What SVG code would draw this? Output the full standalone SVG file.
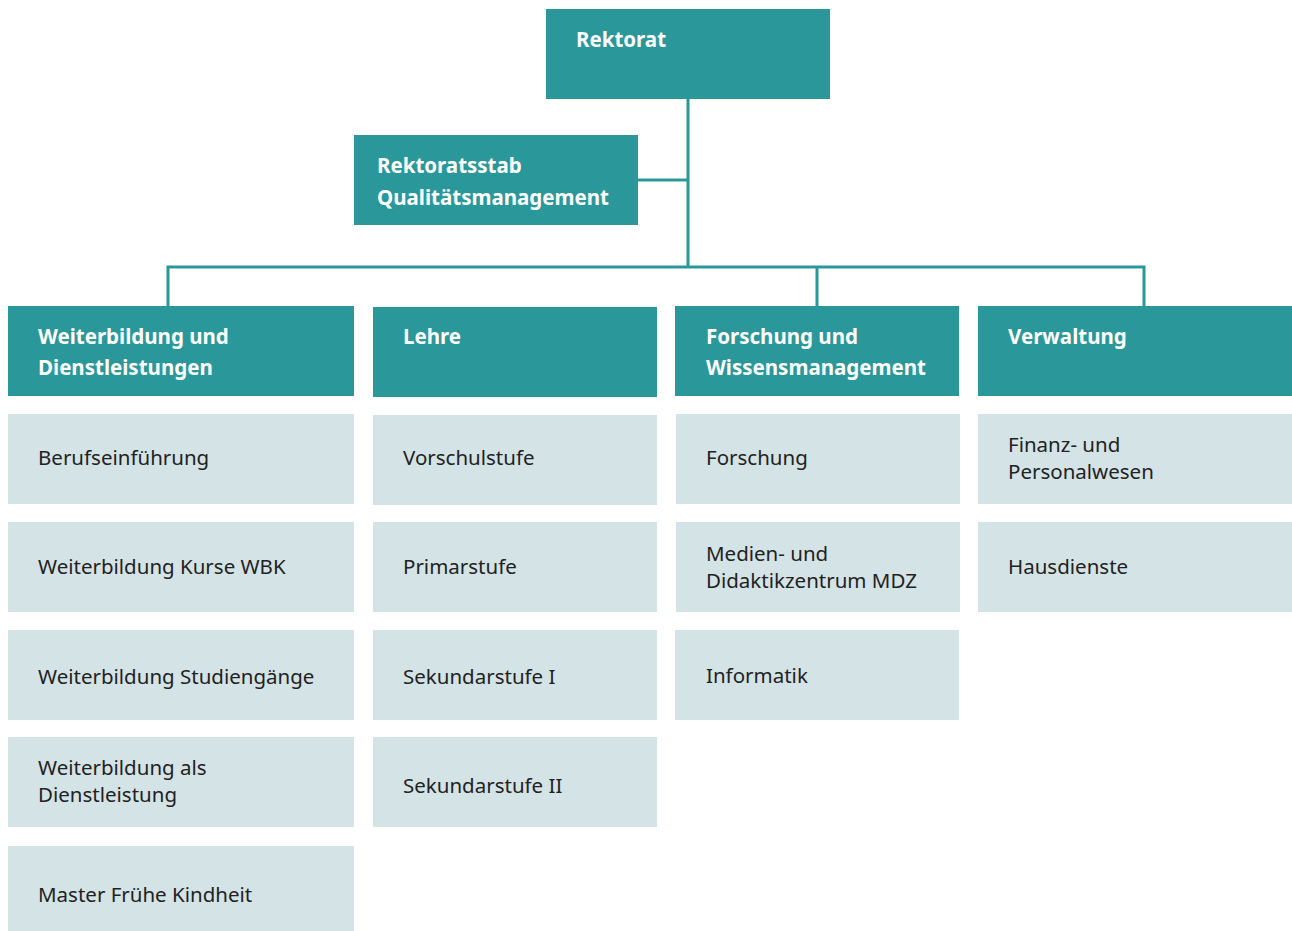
<svg xmlns="http://www.w3.org/2000/svg" width="1292" height="931" viewBox="0 0 1292 931">
<style>
.h{fill:#2A979A}
.s{fill:#D4E3E6}
.ht{font-family:"Noto Sans","Liberation Sans",sans-serif;font-weight:bold;font-size:20.5px;fill:#ffffff}
.t{font-family:"Noto Sans","Liberation Sans",sans-serif;font-size:20.5px;fill:#222222}
.c{fill:none;stroke:#2A979A;stroke-width:3}
</style>
<rect width="1292" height="931" fill="#ffffff"/>
<g id="connectors">
<path class="c" d="M688 99V267M638 180H688M168 306V267H1144V306M817 267V306"/>
</g>
<g id="rektorat"><rect class="h" x="546" y="9" width="284" height="90"/><text class="ht" x="576" y="47">Rektorat</text></g>
<g id="rektoratsstab"><rect class="h" x="354" y="135" width="284" height="90"/><text class="ht" x="377" y="173">Rektoratsstab</text><text class="ht" x="377" y="205">Qualitätsmanagement</text></g>
<g id="weiterbildung"><rect class="h" x="8" y="306" width="346" height="90"/><text class="ht" x="38" y="344">Weiterbildung und</text><text class="ht" x="38" y="375">Dienstleistungen</text></g>
<g id="lehre"><rect class="h" x="373" y="307" width="284" height="90"/><text class="ht" x="403" y="344">Lehre</text></g>
<g id="forschung"><rect class="h" x="675" y="306" width="284" height="90"/><text class="ht" x="706" y="344">Forschung und</text><text class="ht" x="706" y="375">Wissensmanagement</text></g>
<g id="verwaltung"><rect class="h" x="978" y="306" width="314" height="90"/><text class="ht" x="1008" y="344">Verwaltung</text></g>
<g id="berufseinfuehrung"><rect class="s" x="8" y="414" width="346" height="90"/><text class="t" x="38" y="465">Berufseinführung</text></g>
<g id="wbk"><rect class="s" x="8" y="522" width="346" height="90"/><text class="t" x="38" y="574">Weiterbildung Kurse WBK</text></g>
<g id="studiengaenge"><rect class="s" x="8" y="630" width="346" height="90"/><text class="t" x="38" y="684">Weiterbildung Studiengänge</text></g>
<g id="wb-dienstleistung"><rect class="s" x="8" y="737" width="346" height="90"/><text class="t" x="38" y="775">Weiterbildung als</text><text class="t" x="38" y="802">Dienstleistung</text></g>
<g id="master"><rect class="s" x="8" y="846" width="346" height="85"/><text class="t" x="38" y="902">Master Frühe Kindheit</text></g>
<g id="vorschulstufe"><rect class="s" x="373" y="415" width="284" height="90"/><text class="t" x="403" y="465">Vorschulstufe</text></g>
<g id="primarstufe"><rect class="s" x="373" y="522" width="284" height="90"/><text class="t" x="403" y="574">Primarstufe</text></g>
<g id="sek1"><rect class="s" x="373" y="630" width="284" height="90"/><text class="t" x="403" y="684">Sekundarstufe I</text></g>
<g id="sek2"><rect class="s" x="373" y="737" width="284" height="90"/><text class="t" x="403" y="793">Sekundarstufe II</text></g>
<g id="forschung-sub"><rect class="s" x="676" y="414" width="284" height="90"/><text class="t" x="706" y="465">Forschung</text></g>
<g id="mdz"><rect class="s" x="676" y="522" width="284" height="90"/><text class="t" x="706" y="561">Medien- und</text><text class="t" x="706" y="588">Didaktikzentrum MDZ</text></g>
<g id="informatik"><rect class="s" x="675" y="630" width="284" height="90"/><text class="t" x="706" y="683">Informatik</text></g>
<g id="finanz"><rect class="s" x="978" y="414" width="314" height="90"/><text class="t" x="1008" y="452">Finanz- und</text><text class="t" x="1008" y="479">Personalwesen</text></g>
<g id="hausdienste"><rect class="s" x="978" y="522" width="314" height="90"/><text class="t" x="1008" y="574">Hausdienste</text></g>
</svg>
